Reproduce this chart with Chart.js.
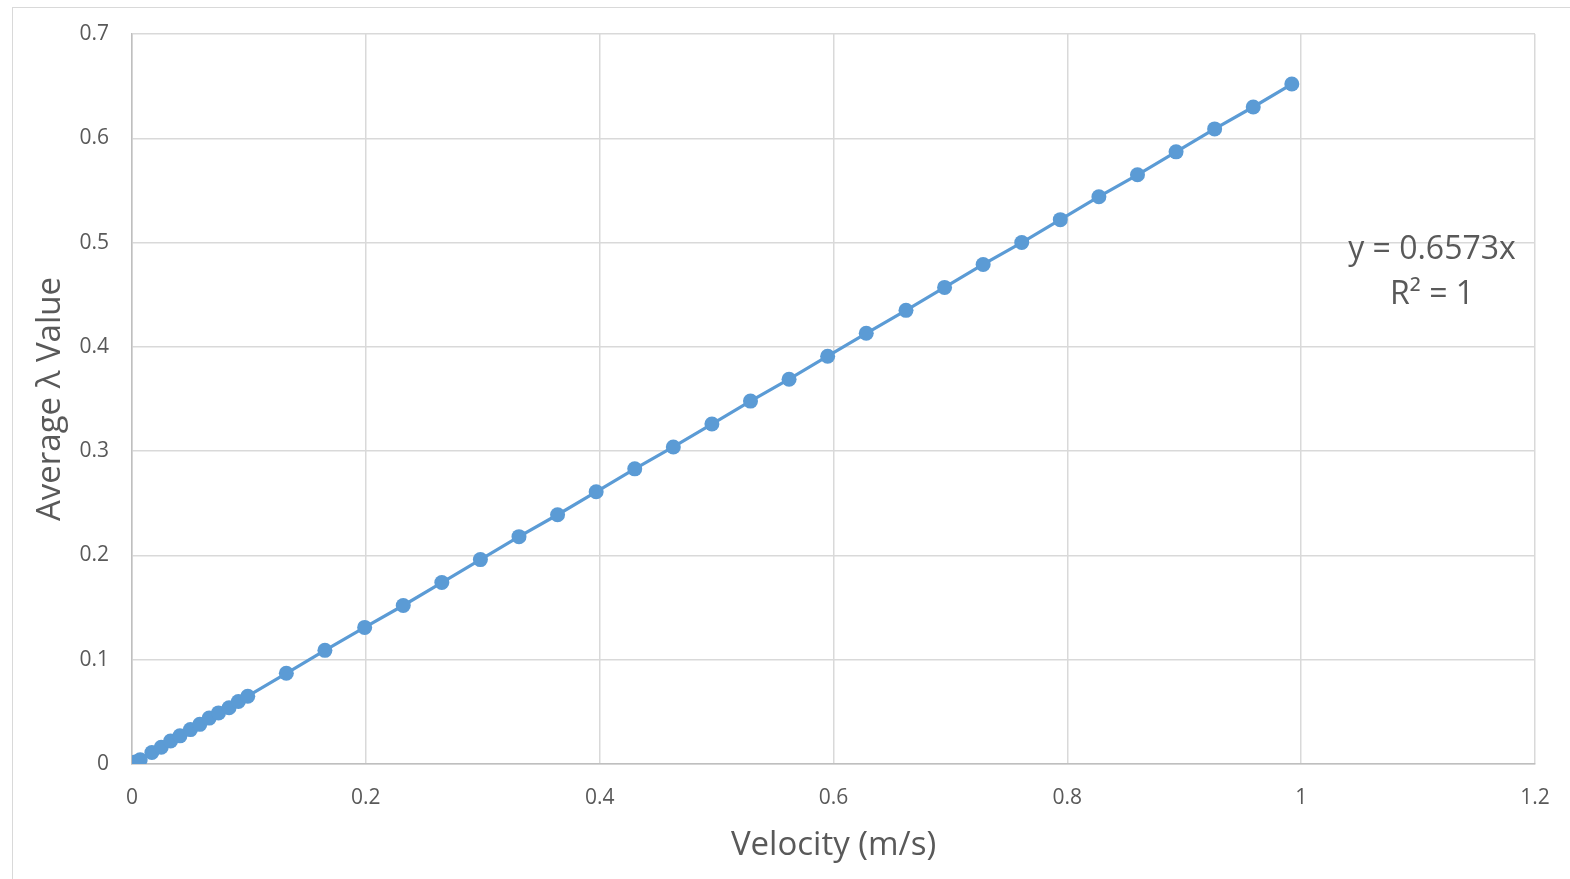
<!DOCTYPE html>
<html lang="en">
<head>
<meta charset="UTF-8">
<title>Average lambda vs velocity</title>
<script src="https://cdn.jsdelivr.net/npm/chart.js"></script>
<style>
body {
    margin: 0;
    background: #ffffff;
    overflow: hidden;
}
.wrap {
    position: relative;
    width: 1570px;
    height: 879px;
}
.frame {
    position: absolute;
    left: 12px;
    top: 7px;
    width: 1600px;
    height: 900px;
    border: 1.5px solid #d9d9d9;
    pointer-events: none;
}
</style>
</head>
<body>
<div class="wrap">
    <canvas id="lambdaChart"></canvas>
    <div class="frame"></div>
</div>

<script>
// velocity (m/s) and average lambda
const velocity = [0.003, 0.007, 0.017, 0.025, 0.033, 0.041, 0.050, 0.058, 0.066, 0.074, 0.083, 0.091, 0.099,
    0.132, 0.165, 0.199, 0.232, 0.265, 0.298, 0.331, 0.364, 0.397, 0.430, 0.463, 0.496, 0.529, 0.562,
    0.595, 0.628, 0.662, 0.695, 0.728, 0.761, 0.794, 0.827, 0.860, 0.893, 0.926, 0.959, 0.992];
const lambda = [0.002, 0.004, 0.011, 0.016, 0.022, 0.027, 0.033, 0.038, 0.044, 0.049, 0.054, 0.060, 0.065,
    0.087, 0.109, 0.131, 0.152, 0.174, 0.196, 0.218, 0.239, 0.261, 0.283, 0.304, 0.326, 0.348, 0.369,
    0.391, 0.413, 0.435, 0.457, 0.479, 0.500, 0.522, 0.544, 0.565, 0.587, 0.609, 0.630, 0.652];

const xTickLabels = ['0', '0.2', '0.4', '0.6', '0.8', '1', '1.2'];
const yTickLabels = ['0', '0.1', '0.2', '0.3', '0.4', '0.5', '0.6', '0.7'];
const trendText = ['y = 0.6573x', 'R\u00B2 = 1'];

const points = velocity.map((v, i) => ({ x: v, y: lambda[i] }));

const grey = '#595959';
const font = 'Open Sans';

// trendline label, like the Excel one
const trendLabel = {
    id: 'trendLabel',
    afterDraw(chart) {
        const ctx = chart.ctx;
        const area = chart.chartArea;
        ctx.save();
        ctx.font = '32px "' + font + '"';
        ctx.fillStyle = grey;
        ctx.textAlign = 'center';
        ctx.textBaseline = 'middle';
        ctx.fillText(trendText[0], area.right - 103, area.top + 216);
        ctx.fillText(trendText[1], area.right - 103, area.top + 261);
        ctx.restore();
    }
};

const chart = new Chart(document.getElementById('lambdaChart'), {
    type: 'scatter',
    data: {
        datasets: [{
            data: points,
            showLine: true,
            borderColor: '#5b9bd5',
            backgroundColor: '#5b9bd5',
            borderWidth: 3.2,
            pointRadius: 7.5,
            pointBorderWidth: 0
        }]
    },
    options: {
        responsive: true,
        maintainAspectRatio: false,
        animation: false,
        layout: {
            padding: { left: 0, top: 34, right: 35, bottom: 0 }
        },
        plugins: {
            legend: { display: false },
            tooltip: { enabled: false }
        },
        scales: {
            x: {
                type: 'linear',
                min: 0,
                max: 1.2,
                afterFit: s => {
                    s.height = 115;
                    s.paddingLeft = 0;
                    s.paddingRight = 0;
                },
                afterBuildTicks: s => {
                    s.ticks = xTickLabels.map(t => ({ value: parseFloat(t) }));
                },
                ticks: {
                    padding: 21,
                    color: grey,
                    font: { family: font, size: 21 },
                    maxRotation: 0,
                    callback: (v, i) => xTickLabels[i]
                },
                grid: { color: '#d9d9d9', lineWidth: 1.5, drawTicks: false },
                border: { color: '#bfbfbf', width: 1.5 },
                title: {
                    display: true,
                    text: 'Velocity (m/s)',
                    color: grey,
                    font: { family: font, size: 33 },
                    padding: { top: 0, bottom: 14 }
                }
            },
            y: {
                type: 'linear',
                min: 0,
                max: 0.7,
                afterFit: s => {
                    s.width = 132;
                    s.paddingTop = 0;
                    s.paddingBottom = 0;
                },
                afterBuildTicks: s => {
                    s.ticks = yTickLabels.map(t => ({ value: parseFloat(t) }));
                },
                ticks: {
                    padding: 23,
                    color: grey,
                    font: { family: font, size: 21 },
                    callback: (v, i) => yTickLabels[i]
                },
                grid: { color: '#d9d9d9', lineWidth: 1.5, drawTicks: false },
                border: { color: '#bfbfbf', width: 1.5 },
                title: {
                    display: true,
                    text: 'Average \u03BB Value',
                    color: grey,
                    font: { family: font, size: 33 },
                    padding: { top: 31, bottom: 0 }
                }
            }
        }
    },
    plugins: [trendLabel]
});
</script>
</body>
</html>
